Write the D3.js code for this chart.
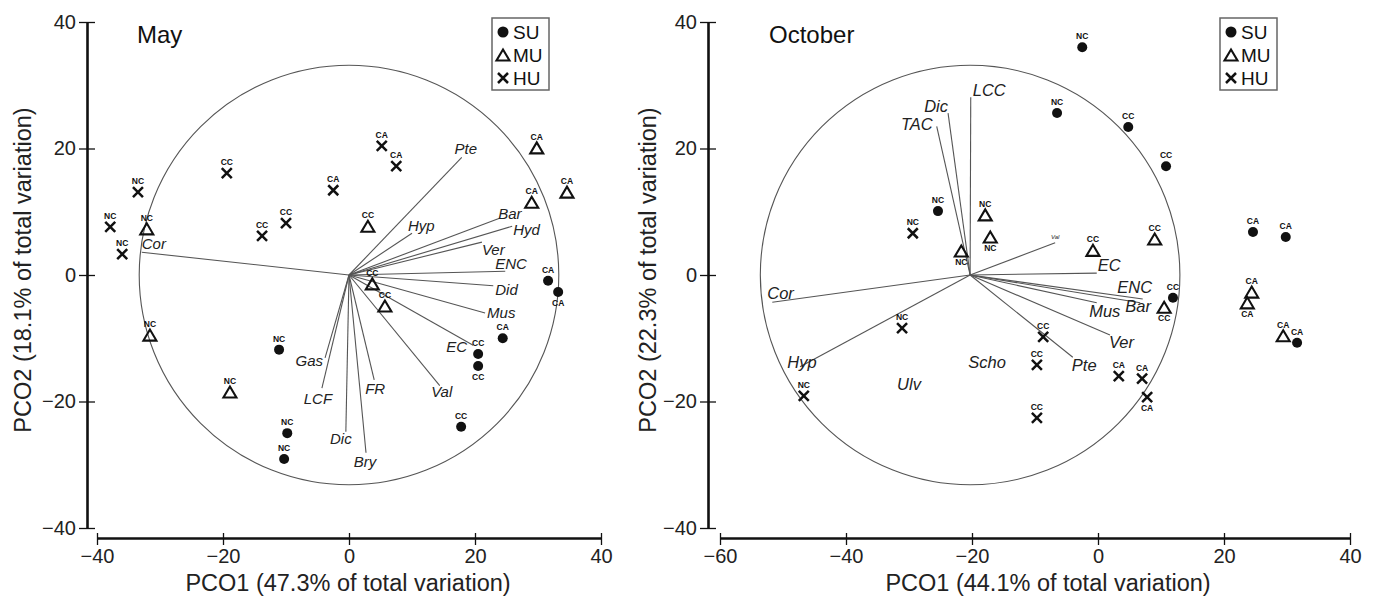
<!DOCTYPE html>
<html>
<head>
<meta charset="utf-8">
<script src="https://cdn.jsdelivr.net/npm/d3@7"></script>
<style>
  body { margin: 0; background: #fff; }
  svg { font-family: "Liberation Sans", Arial, Helvetica, sans-serif; }
</style>
</head>
<body>
<div id="chart"></div>
<script>
// ---- data ----
const axisTicks = [-40, -20, 0, 20, 40];
const octXTicks = [-60, -40, -20, 0, 20, 40];
const groups = ["SU", "MU", "HU"];

// May ordination
const maySU = [
  { t: "NC", x: -11.1, y: -11.8 }, { t: "NC", x: -9.8, y: -25.0 }, { t: "NC", x: -10.3, y: -29.1 },
  { t: "CA", x: 31.6, y: -0.9 }, { t: "CA", x: 33.2, y: -2.7 }, { t: "CA", x: 24.4, y: -10.0 },
  { t: "CC", x: 20.5, y: -12.5 }, { t: "CC", x: 20.5, y: -14.4 }, { t: "CC", x: 17.8, y: -24.0 }
];
const mayMU = [
  { t: "NC", x: -32.1, y: 7.3 }, { t: "NC", x: -31.6, y: -9.5 }, { t: "NC", x: -18.9, y: -18.5 },
  { t: "CC", x: 3.0, y: 7.7 }, { t: "CC", x: 3.7, y: -1.4 }, { t: "CC", x: 5.7, y: -4.9 },
  { t: "CA", x: 29.8, y: 20.1 }, { t: "CA", x: 34.6, y: 13.1 }, { t: "CA", x: 29.0, y: 11.5 }
];
const mayHU = [
  { t: "NC", x: -33.5, y: 13.1 }, { t: "NC", x: -37.9, y: 7.6 }, { t: "NC", x: -36.0, y: 3.3 },
  { t: "CC", x: -19.4, y: 16.1 }, { t: "CC", x: -13.8, y: 6.2 }, { t: "CC", x: -10.0, y: 8.2 },
  { t: "CA", x: -2.5, y: 13.4 }, { t: "CA", x: 5.2, y: 20.4 }, { t: "CA", x: 7.5, y: 17.2 }
];
const mayVectors = [
  { v: "Cor", x: -32.9, y: 3.6 }, { v: "Pte", x: 17.9, y: 18.6 }, { v: "Hyp", x: 10.0, y: 6.6 },
  { v: "Bar", x: 24.0, y: 9.0 }, { v: "Hyd", x: 25.9, y: 7.7 }, { v: "Ver", x: 21.1, y: 5.2 },
  { v: "ENC", x: 24.8, y: 0.6 }, { v: "Did", x: 22.9, y: -1.7 }, { v: "Mus", x: 21.6, y: -6.0 },
  { v: "EC", x: 19.7, y: -11.1 }, { v: "Val", x: 14.4, y: -17.5 }, { v: "FR", x: 4.0, y: -16.6 },
  { v: "Bry", x: 2.7, y: -28.1 }, { v: "Dic", x: -0.5, y: -24.8 }, { v: "LCF", x: -4.3, y: -17.9 },
  { v: "Gas", x: -3.8, y: -13.1 }
];

// October ordination
const octSU = [
  { t: "NC", x: -2.5, y: 36.0 }, { t: "NC", x: -6.5, y: 25.6 }, { t: "NC", x: -25.4, y: 10.1 },
  { t: "CC", x: 4.8, y: 23.4 }, { t: "CC", x: 10.8, y: 17.2 }, { t: "CC", x: 11.9, y: -3.6 },
  { t: "CA", x: 24.6, y: 6.8 }, { t: "CA", x: 29.8, y: 6.0 }, { t: "CA", x: 31.6, y: -10.7 }
];
const octMU = [
  { t: "NC", x: -17.9, y: 9.5 }, { t: "NC", x: -17.1, y: 6.0 }, { t: "NC", x: -21.7, y: 3.8 },
  { t: "CC", x: -0.8, y: 3.9 }, { t: "CC", x: 9.0, y: 5.7 }, { t: "CC", x: 10.5, y: -5.1 },
  { t: "CA", x: 24.4, y: -2.7 }, { t: "CA", x: 23.7, y: -4.4 }, { t: "CA", x: 29.4, y: -9.6 }
];
const octHU = [
  { t: "NC", x: -29.4, y: 6.6 }, { t: "NC", x: -31.1, y: -8.4 }, { t: "NC", x: -46.7, y: -19.1 },
  { t: "CC", x: -8.7, y: -9.8 }, { t: "CC", x: -9.7, y: -14.2 }, { t: "CC", x: -9.7, y: -22.6 },
  { t: "CA", x: 3.3, y: -16.0 }, { t: "CA", x: 7.0, y: -16.4 }, { t: "CA", x: 7.8, y: -19.3 }
];
const octVectors = [
  { v: "LCC", x: -20.2, y: 28.1 }, { v: "Dic", x: -23.8, y: 25.6 }, { v: "TAC", x: -25.6, y: 23.5 },
  { v: "Cor", x: -51.7, y: -4.3 }, { v: "Hyp", x: -47.3, y: -14.5 }, { v: "Val", x: -6.8, y: 5.1 },
  { v: "EC", x: -0.2, y: 0.3 }, { v: "ENC", x: 7.1, y: -3.8 }, { v: "Bar", x: 6.7, y: -4.4 },
  { v: "Mus", x: -0.2, y: -4.4 }, { v: "Ver", x: 1.9, y: -9.5 }, { v: "Pte", x: -4.0, y: -13.0 }
];
const octFreeLabels = [{ v: "Scho", x: -17.6, y: -13.9 }, { v: "Ulv", x: -30.0, y: -17.4 }];

// ---- layout ----
const W = 1375, H = 598;
const svg = d3.select("#chart").append("svg").attr("width", W).attr("height", H);
const ink = "#111";

const panels = [
  {
    title: "May", titleX: 137,
    xDomain: [-40, 40], xRange: [97, 601], xTicks: axisTicks, yAxisX: 87,
    xTitle: "PCO1 (47.3% of total variation)", xTitleX: 348,
    yTitle: "PCO2 (18.1% of total variation)", yTitleX: 31,
    data: { SU: maySU, MU: mayMU, HU: mayHU },
    below: new Set(["SU4", "SU7"]),
    circle: { x: 0, y: 0, r: 33.3 },
    vectors: mayVectors, vecFont: 15, free: [],
    legendX: 492,
    lab: {
      Cor: ["start", 0, -3], Pte: ["middle", 4, -3], Hyp: ["start", -4, -2], Bar: ["start", -2, 1],
      Hyd: ["start", 1, 9], Ver: ["start", 0, 13], ENC: ["start", -10, -2], Did: ["start", 2, 9],
      Mus: ["start", 2, 5], EC: ["end", -6, 7], Val: ["middle", 2, 11], FR: ["middle", 1, 14],
      Bry: ["middle", -1, 14], Dic: ["middle", -5, 12], LCF: ["middle", -4, 16], Gas: ["end", -2, 8]
    }
  },
  {
    title: "October", titleX: 769,
    xDomain: [-60, 40], xRange: [720, 1350], xTicks: octXTicks, yAxisX: 708,
    xTitle: "PCO1 (44.1% of total variation)", xTitleX: 1048,
    yTitle: "PCO2 (22.3% of total variation)", yTitleX: 656,
    data: { SU: octSU, MU: octMU, HU: octHU },
    below: new Set(["MU1", "MU2", "MU5", "MU7", "HU8"]),
    circle: { x: -20.3, y: 0, r: 33.3 },
    vectors: octVectors, vecFont: 16.5, free: octFreeLabels,
    legendX: 1220,
    lab: {
      LCC: ["start", 2, -1], Dic: ["end", 0, -1], TAC: ["end", -4, 4], Cor: ["start", -5, -3],
      Hyp: ["middle", 2, 1], Val: ["middle", 0, -4], EC: ["start", 1, -2], ENC: ["middle", -8, -6],
      Bar: ["middle", -2, 9], Mus: ["middle", 8, 14], Ver: ["start", -1, 13], Pte: ["start", -1, 14]
    }
  }
];

function drawMarker(sel, group, cx, cy, s) {
  if (group === "SU") {
    sel.append("circle").attr("cx", cx).attr("cy", cy).attr("r", 5 * s).attr("fill", ink);
  } else if (group === "MU") {
    const w = 6.5 * s, h = 5.5 * s;
    sel.append("path")
      .attr("d", `M${cx - w},${cy + h}L${cx + w},${cy + h}L${cx},${cy - h}Z`)
      .attr("fill", "none").attr("stroke", ink).attr("stroke-width", 2.1).attr("stroke-linejoin", "miter");
  } else {
    const d = 5 * s;
    sel.append("path")
      .attr("d", `M${cx - d},${cy - d}L${cx + d},${cy + d}M${cx - d},${cy + d}L${cx + d},${cy - d}`)
      .attr("stroke", ink).attr("stroke-width", 2.5);
  }
}

panels.forEach((p) => {
  const x = d3.scaleLinear().domain(p.xDomain).range(p.xRange);
  const y = d3.scaleLinear().domain([-40, 40]).range([528, 22]);
  const g = svg.append("g");

  // y axis
  const ya = g.append("g").attr("transform", `translate(${p.yAxisX},0)`)
    .call(d3.axisLeft(y).tickValues(axisTicks).tickSizeInner(8).tickSizeOuter(0).tickPadding(3));
  ya.selectAll(".tick line").attr("x1", 8).attr("stroke", ink).attr("stroke-width", 1.3);

  // x axis
  const xa = g.append("g").attr("transform", "translate(0,538)")
    .call(d3.axisBottom(x).tickValues(p.xTicks).tickSizeInner(7).tickSizeOuter(0).tickPadding(4));
  xa.selectAll(".tick line").attr("y1", -5).attr("stroke", ink).attr("stroke-width", 1.3);

  [ya, xa].forEach((a) => {
    a.select(".domain").attr("stroke", ink).attr("stroke-width", 2.6);
    a.selectAll(".tick text").attr("fill", "#222").style("font-size", "20px");
  });

  // axis titles
  g.append("text").attr("x", p.xTitleX).attr("y", 591).attr("text-anchor", "middle")
    .style("font-size", "23.5px").attr("fill", "#222").text(p.xTitle);
  g.append("text").attr("transform", `translate(${p.yTitleX},270) rotate(-90)`)
    .attr("text-anchor", "middle").style("font-size", "23.5px").attr("fill", "#222").text(p.yTitle);

  // panel title
  g.append("text").attr("x", p.titleX).attr("y", 43).style("font-size", "24px").attr("fill", ink).text(p.title);

  // correlation circle
  const cx = x(p.circle.x), cy = y(p.circle.y);
  g.append("circle").attr("cx", cx).attr("cy", cy).attr("r", x(p.circle.r) - x(0))
    .attr("fill", "none").attr("stroke", "#555").attr("stroke-width", 1.1);

  // vectors
  g.selectAll(".vec").data(p.vectors).enter().append("line")
    .attr("x1", cx).attr("y1", cy).attr("x2", (d) => x(d.x)).attr("y2", (d) => y(d.y))
    .attr("stroke", "#555").attr("stroke-width", 1.1);

  g.selectAll(".vlab").data(p.vectors).enter().append("text")
    .attr("x", (d) => x(d.x) + p.lab[d.v][1]).attr("y", (d) => y(d.y) + p.lab[d.v][2])
    .attr("text-anchor", (d) => p.lab[d.v][0])
    .style("font-style", "italic")
    .style("font-size", (d) => (p.title === "October" && d.v === "Val" ? "6px" : p.vecFont + "px"))
    .attr("fill", "#222").text((d) => d.v);

  g.selectAll(".flab").data(p.free).enter().append("text")
    .attr("x", (d) => x(d.x)).attr("y", (d) => y(d.y) + 5).attr("text-anchor", "middle")
    .style("font-style", "italic").style("font-size", p.vecFont + "px").attr("fill", "#222").text((d) => d.v);

  // sample points
  groups.forEach((grp) => {
    p.data[grp].forEach((d, i) => {
      const px = x(d.x), py = y(d.y);
      drawMarker(g, grp, px, py, 1);
      const under = p.below.has(grp + i);
      g.append("text").attr("x", px).attr("y", under ? py + 14 : py - 8)
        .attr("text-anchor", "middle").style("font-size", "8.5px").style("font-weight", "bold")
        .attr("fill", ink).text(d.t);
    });
  });

  // legend
  const lg = g.append("g").attr("transform", `translate(${p.legendX},18)`);
  lg.append("rect").attr("width", 57).attr("height", 72).attr("fill", "#fff")
    .attr("stroke", "#666").attr("stroke-width", 1.5);
  groups.forEach((grp, i) => {
    const ry = 14 + i * 23;
    drawMarker(lg, grp, 11, ry, grp === "SU" ? 1.1 : 1);
    lg.append("text").attr("x", 21).attr("y", ry + 7).style("font-size", "19px").attr("fill", ink).text(grp);
  });
});
</script>
</body>
</html>
